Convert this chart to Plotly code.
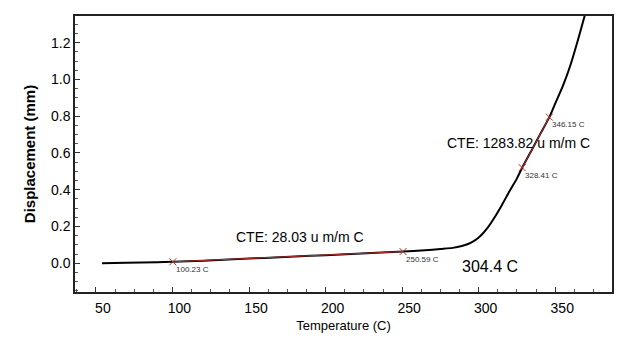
import plotly.graph_objects as go

# Dilatometer run: displacement vs temperature
temperature_c = [54, 70, 90, 100.23, 110, 130, 150, 170, 190, 210, 230, 250.59, 265, 275,
                 283, 289, 293, 297, 300, 303, 306, 310, 315, 320, 325, 328.41, 335, 340,
                 346.15, 350, 355, 360, 365, 370]
displacement_mm = [0.000, 0.003, 0.006, 0.008, 0.011, 0.018, 0.026, 0.033, 0.041, 0.048, 0.056,
                   0.064, 0.071, 0.078, 0.084, 0.094, 0.105, 0.122, 0.140, 0.165, 0.195, 0.245,
                   0.315, 0.390, 0.462, 0.520, 0.622, 0.700, 0.795, 0.870, 0.965, 1.080,
                   1.220, 1.370]

# CTE analysis windows (start/end temperatures and displacements)
low_window_t = [100.23, 250.59]
low_window_d = [0.008, 0.064]
high_window_t = [328.41, 346.15]
high_window_d = [0.520, 0.795]

cte_low_text = "CTE: 28.03 u m/m C"
cte_high_text = "CTE: 1283.82 u m/m C"
onset_text = "304.4 C"

FONT = "Liberation Sans, Arial, sans-serif"
RED = "#b3302c"

fig = go.Figure()

fig.add_trace(go.Scatter(x=temperature_c, y=displacement_mm, mode="lines",
                         line=dict(color="black", width=2, shape="spline", smoothing=0.7),
                         hoverinfo="skip"))

for tx, dy in ((low_window_t, low_window_d), (high_window_t, high_window_d)):
    fig.add_trace(go.Scatter(x=tx, y=dy, mode="lines+markers",
                             line=dict(color=RED, width=1),
                             marker=dict(symbol="x-thin", size=7,
                                         line=dict(color=RED, width=1)),
                             hoverinfo="skip"))
    for t, d in zip(tx, dy):
        fig.add_annotation(x=t, y=d, text=f"{t:.2f} C", showarrow=False,
                           xanchor="left", yanchor="top", xshift=1, yshift=-1,
                           font=dict(family=FONT, size=8, color="#333333"))

fig.add_annotation(x=183.3, y=0.143, text=cte_low_text, showarrow=False,
                   font=dict(family=FONT, size=14, color="black"))
fig.add_annotation(x=325.7, y=0.656, text=cte_high_text, showarrow=False,
                   font=dict(family=FONT, size=14, color="black"))
fig.add_annotation(x=307.5, y=-0.015, text=onset_text, showarrow=False,
                   font=dict(family=FONT, size=16, color="black"))

axis_common = dict(showline=True, mirror=True, linecolor="#222222", linewidth=1.5,
                   ticks="inside", ticklen=5, tickcolor="#333333", tickwidth=1,
                   showgrid=False, zeroline=False,
                   tickfont=dict(family=FONT, size=14, color="black"))

fig.update_xaxes(range=[36.35, 387.06], tick0=50, dtick=50,
                 ticklabelshift=7, ticklabelstandoff=2,
                 minor=dict(ticks="inside", ticklen=3, dtick=12.5, tickcolor="#555555"),
                 title=dict(text="Temperature (C)", standoff=6,
                            font=dict(family=FONT, size=13, color="black")),
                 **axis_common)
fig.update_yaxes(range=[-0.156, 1.345], tick0=0, dtick=0.2, tickformat=".1f",
                 minor=dict(ticks="inside", ticklen=3, dtick=0.05, tickcolor="#555555"),
                 title=dict(text="<b>Displacement (mm)</b>", standoff=12,
                            font=dict(family=FONT, size=15, color="black")),
                 **axis_common)

fig.update_layout(width=622, height=341, showlegend=False,
                  margin=dict(l=75, r=8, t=16, b=49),
                  paper_bgcolor="white", plot_bgcolor="white")

fig.write_html("out.html")
